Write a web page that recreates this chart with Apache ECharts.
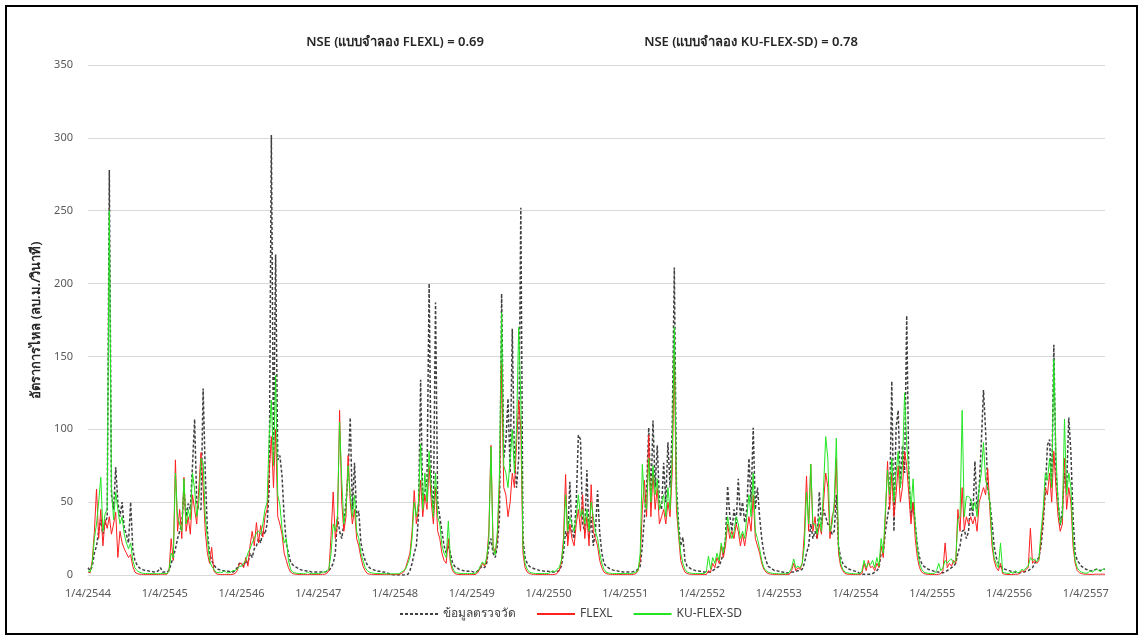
<!DOCTYPE html>
<html>
<head>
<meta charset="utf-8">
<script src="https://cdn.jsdelivr.net/npm/echarts@6/dist/echarts.min.js"></script>
<style>
  html, body { margin: 0; padding: 0; background: #fff; }
  #frame { position: absolute; left: 5px; top: 5px; width: 1129px; height: 626px; border: 2px solid #000; }
  #main { position: absolute; left: 0; top: 0; width: 1141px; height: 637px; }
</style>
</head>
<body>
<div id="frame"></div>
<div id="main"></div>
<script>
  // 10-day steps (1, 11, 21 of each month) from 1/4/2544, 36 per water year
  const firstYear = 2544
  const yearCount = 13
  const tailSteps = 10

  // ข้อมูลตรวจวัด
  const obs = [
    5, 3, 6, 15, 20, 30, 38, 28, 35, 40, 278, 55, 45, 74, 50, 40, 50, 32, 28, 22, 50, 18, 10, 7, 5, 4, 3.5, 3, 3, 2.5, 2.5, 2, 2, 3, 5, 2,
    2, 2, 3, 8, 12, 18, 25, 30, 35, 59, 40, 49, 45, 75, 107, 50, 45, 45, 128, 70, 30, 15, 10, 7, 5, 4, 3.5, 3, 3, 2.5, 2.5, 2, 2, 3, 5, 8,
    8, 6, 10, 8, 15, 12, 18, 20, 25, 22, 30, 28, 35, 60, 302, 80, 220, 79, 82, 68, 40, 22, 15, 9, 7, 6, 5, 4, 3.5, 3, 3, 2.5, 2.5, 2, 2, 2,
    2, 2, 2, 2, 2.5, 3, 5, 8, 15, 40, 30, 25, 35, 50, 70, 108, 45, 77, 40, 44, 22, 15, 10, 7, 5, 4, 3.5, 3, 2.5, 2.5, 2, 2, 1.5, 1, 0.5, 0.2,
    0, 0, 0, 0, 0, 0, 0.5, 3, 8, 15, 20, 40, 134, 50, 57, 65, 200, 60, 45, 187, 50, 40, 30, 20, 15, 20, 15, 8, 6, 5, 4, 3.5, 3, 3, 2.5, 2.5,
    2.5, 2, 2, 3, 5, 6, 5, 8, 20, 25, 15, 12, 20, 40, 193, 80, 92, 121, 70, 169, 80, 60, 80, 252, 25, 12, 8, 6, 5, 4.5, 4, 3.5, 3, 3, 2.5, 2.5,
    2.5, 2, 2, 2, 2.5, 3, 6, 15, 30, 25, 64, 30, 25, 50, 96, 93, 35, 30, 72, 25, 40, 20, 30, 58, 29, 15, 8, 6, 5, 4, 3.5, 3, 3, 2.5, 2.5, 2,
    2, 2, 2, 2, 2.5, 3, 4, 6, 20, 40, 60, 101, 50, 106, 60, 89, 50, 45, 77, 50, 91, 60, 101, 211, 61, 35, 20, 26, 10, 6, 5, 4, 3.5, 3, 3, 2.5,
    2.5, 2, 2, 2, 2, 3, 4, 5, 6, 10, 15, 25, 61, 41, 30, 45, 35, 66, 40, 50, 36, 45, 80, 50, 101, 45, 60, 40, 25, 15, 10, 6, 5, 4, 3, 3,
    2.5, 2, 2, 1.5, 1.5, 1.5, 2, 2, 2.5, 3, 3, 4, 8, 15, 20, 35, 25, 30, 25, 57, 35, 45, 40, 35, 33, 28, 30, 55, 20, 12, 8, 6, 5, 4, 3.5, 3,
    2.5, 2, 1, 0.5, 0.5, 0.5, 0.5, 0.5, 1, 2, 3, 5, 15, 15, 30, 40, 50, 133, 30, 101, 113, 60, 89, 70, 178, 68, 40, 50, 35, 20, 12, 8, 6, 5, 4, 3.5,
    3, 2.5, 2, 2, 1.5, 1.5, 2, 3, 4, 5, 6, 8, 15, 20, 30, 31, 25, 30, 52, 40, 78, 45, 60, 91, 127, 99, 60, 50, 36, 20, 12, 8, 6, 5, 4, 3.5,
    3, 2.5, 2, 2, 1.5, 1.5, 2, 2, 2.5, 3, 4, 5, 8, 10, 12, 20, 35, 57, 89, 93, 60, 158, 70, 50, 34, 45, 70, 60, 108, 84, 40, 15, 10, 8, 6, 5,
    4, 3.5, 3, 3, 3.5, 4, 3.5, 3, 4, 4
  ]

  // FLEXL
  const flexl = [
    2, 1.5, 10, 30, 59, 25, 45, 20, 38, 32, 40, 28, 35, 43, 12, 30, 22, 18, 15, 12, 14, 6, 2, 1, 0.6, 0.5, 0.4, 0.3, 0.3, 0.3, 0.3, 0.3, 0.3, 0.3, 0.5, 0.5,
    0.5, 0.5, 3, 25, 10, 79, 30, 45, 25, 67, 30, 40, 28, 55, 45, 35, 60, 84, 60, 30, 15, 8, 19, 3, 1, 0.5, 0.4, 0.3, 0.3, 0.3, 0.3, 0.3, 0.5, 1, 3, 8,
    8, 5, 12, 6, 20, 30, 20, 36, 22, 34, 26, 40, 45, 70, 95, 60, 100, 40, 35, 28, 15, 10, 5, 2, 1, 0.6, 0.5, 0.4, 0.3, 0.3, 0.3, 0.3, 0.3, 0.3, 0.3, 0.3,
    0.3, 0.3, 0.5, 0.5, 1, 3, 27, 57, 25, 35, 113, 50, 30, 40, 82, 50, 35, 45, 25, 20, 12, 6, 3, 1, 0.6, 0.5, 0.4, 0.3, 0.3, 0.3, 0.3, 0.3, 0.3, 0.3, 0.3, 0.3,
    0.3, 0.3, 0.5, 1, 2, 5, 10, 15, 30, 58, 35, 45, 65, 40, 55, 45, 75, 50, 35, 60, 30, 25, 15, 10, 8, 25, 8, 3, 1, 0.5, 0.4, 0.3, 0.3, 0.3, 0.3, 0.3,
    0.3, 0.3, 0.5, 2, 5, 8, 6, 10, 30, 89, 20, 15, 25, 60, 145, 60, 55, 40, 50, 70, 60, 90, 120, 100, 15, 5, 2, 1, 0.6, 0.5, 0.4, 0.3, 0.3, 0.3, 0.3, 0.3,
    0.3, 0.3, 0.3, 0.5, 1, 3, 8, 25, 69, 20, 35, 25, 20, 35, 45, 30, 55, 25, 40, 20, 62, 30, 25, 20, 10, 5, 2, 1, 0.6, 0.5, 0.4, 0.3, 0.3, 0.3, 0.3, 0.3,
    0.3, 0.3, 0.3, 0.3, 0.5, 1, 3, 10, 45, 65, 40, 96, 40, 70, 45, 60, 35, 40, 45, 35, 50, 40, 70, 150, 45, 27, 10, 5, 2, 1, 0.6, 0.5, 0.4, 0.3, 0.3, 0.3,
    0.3, 0.3, 0.3, 3, 2, 8, 5, 12, 8, 20, 12, 20, 35, 25, 30, 25, 35, 30, 20, 28, 20, 30, 40, 30, 55, 25, 20, 15, 8, 4, 2, 1, 0.6, 0.5, 0.4, 0.3,
    0.3, 0.3, 0.3, 0.3, 0.3, 0.5, 3, 8, 3, 5, 4, 8, 29, 68, 30, 76, 30, 40, 25, 35, 28, 50, 70, 60, 25, 40, 45, 80, 15, 6, 3, 1, 0.6, 0.5, 0.4, 0.3,
    0.3, 0.3, 0.3, 1, 8, 3, 10, 5, 6, 3, 8, 5, 20, 12, 40, 78, 45, 70, 40, 55, 75, 50, 60, 85, 75, 55, 35, 50, 25, 12, 5, 2, 1, 0.6, 0.5, 0.4,
    0.3, 0.3, 0.3, 0.5, 1, 3, 22, 5, 8, 6, 10, 8, 45, 30, 60, 31, 40, 35, 40, 35, 40, 30, 50, 55, 60, 55, 73, 45, 20, 10, 5, 3, 8, 1, 0.5, 0.4,
    0.3, 0.3, 0.3, 0.5, 0.5, 1, 3, 2, 4, 5, 32, 8, 10, 8, 10, 25, 40, 60, 55, 70, 50, 85, 60, 40, 30, 35, 80, 45, 60, 50, 20, 8, 3, 1.5, 1, 0.6,
    0.5, 0.5, 0.4, 0.4, 0.5, 0.6, 0.5, 0.5, 0.6, 0.6
  ]

  // KU-FLEX-SD
  const kuflex = [
    3, 2, 8, 25, 35, 50, 67, 30, 42, 45, 250, 60, 38, 57, 45, 35, 40, 28, 22, 18, 22, 10, 5, 3, 2, 1.5, 1.2, 1, 1, 1, 0.9, 0.9, 0.9, 0.8, 1, 1,
    1, 1, 3, 15, 12, 70, 40, 35, 30, 66, 35, 45, 38, 70, 59, 40, 50, 80, 77, 40, 25, 10, 6, 4, 2, 1.5, 2, 1.5, 3, 1.5, 1.5, 2, 3, 3, 4, 6,
    6, 8, 10, 15, 18, 22, 25, 29, 30, 28, 35, 45, 50, 96, 120, 75, 137, 55, 48, 32, 22, 25, 10, 4, 2, 1.5, 1.2, 1, 1, 0.9, 0.9, 2, 1, 0.9, 0.9, 0.9,
    1, 1, 2, 2, 3, 4, 15, 35, 30, 40, 105, 66, 35, 45, 75, 55, 40, 55, 30, 25, 15, 10, 5, 3, 2, 1.5, 1.2, 1, 1, 1, 0.9, 0.9, 0.9, 0.8, 0.8, 0.8,
    0.8, 0.8, 1, 2, 3, 4, 8, 12, 25, 50, 40, 50, 90, 45, 70, 50, 85, 60, 40, 70, 40, 35, 20, 15, 12, 37, 10, 5, 2, 1.5, 1.2, 1, 1, 1, 1, 1,
    1, 1, 1.5, 3, 6, 9, 7, 12, 25, 88, 18, 14, 30, 70, 180, 75, 70, 60, 80, 100, 70, 100, 170, 120, 20, 8, 4, 2, 1.5, 1.2, 1, 1, 1, 1, 1, 1,
    1, 2, 3, 2, 4, 5, 10, 20, 55, 30, 40, 35, 30, 40, 55, 40, 45, 35, 45, 30, 50, 40, 30, 25, 15, 8, 4, 2, 1.5, 1.2, 1, 1, 1, 1, 1, 1,
    1, 1, 1, 1, 1.5, 2, 3, 15, 76, 50, 45, 80, 50, 75, 55, 66, 45, 50, 55, 40, 60, 45, 80, 170, 55, 30, 15, 8, 4, 2, 1.5, 1.2, 1, 1, 1, 1,
    1, 1, 2, 13, 4, 12, 8, 15, 10, 22, 15, 25, 40, 30, 25, 30, 40, 35, 25, 30, 25, 40, 55, 40, 70, 30, 25, 18, 10, 5, 3, 2, 1.5, 1.2, 1, 1,
    0.8, 0.8, 0.8, 0.8, 1, 2, 5, 11, 5, 6, 5, 8, 20, 57, 35, 76, 35, 35, 28, 40, 30, 60, 95, 80, 30, 35, 50, 94, 20, 8, 4, 2, 1.5, 1.2, 1, 1,
    0.8, 0.8, 1, 3, 10, 5, 8, 7, 10, 5, 12, 6, 25, 15, 45, 72, 55, 80, 50, 70, 85, 60, 75, 125, 90, 70, 45, 66, 35, 18, 8, 4, 2, 1.5, 1.2, 1,
    1, 1, 3, 8, 3, 5, 10, 8, 10, 11, 8, 10, 38, 40, 113, 40, 54, 54, 52, 45, 50, 40, 60, 70, 91, 65, 60, 50, 25, 12, 8, 5, 22, 2, 1.5, 1.2,
    1, 2, 1, 3, 1.5, 2, 4, 3, 5, 6, 12, 10, 11, 9, 11, 30, 45, 70, 65, 80, 60, 148, 82, 50, 35, 40, 107, 55, 70, 60, 25, 10, 5, 3, 2, 1.5,
    1.2, 1.5, 3, 2, 3, 4, 3, 2.5, 4, 4
  ]

  const yTicks = [0, 50, 100, 150, 200, 250, 300, 350]

  let dates = []
  for (let y = 0; y <= yearCount; y++) {
    for (let m = 0; m < 12; m++) {
      for (let d of [1, 11, 21]) {
        if (dates.length >= yearCount * 36 + tailSteps) break
        let month = (m + 3) % 12 + 1
        let year = firstYear + y + (m >= 9 ? 1 : 0)
        dates.push(d + '/' + month + '/' + year)
      }
    }
  }

  let chart = echarts.init(document.getElementById('main'))
  let font = 'Tahoma, "Noto Sans", "DejaVu Sans", sans-serif'

  chart.setOption({
    animation: false,
    textStyle: {fontFamily: font},
    grid: {left: 88, right: 36, top: 65, bottom: 62},
    graphic: [
      {type: 'text', x: 395, y: 42, style: {text: 'NSE (แบบจำลอง FLEXL) = 0.69', font: '600 13px ' + font, fill: '#262626', align: 'center', verticalAlign: 'middle'}},
      {type: 'text', x: 751, y: 42, style: {text: 'NSE (แบบจำลอง KU-FLEX-SD) = 0.78', font: '600 13px ' + font, fill: '#262626', align: 'center', verticalAlign: 'middle'}}
    ],
    legend: {
      bottom: 12,
      left: 'center',
      itemWidth: 38,
      itemHeight: 10,
      itemGap: 20,
      itemStyle: {opacity: 0},
      textStyle: {color: '#404040', fontSize: 12, fontFamily: font},
      data: ['ข้อมูลตรวจวัด', 'FLEXL', 'KU-FLEX-SD']
    },
    xAxis: {
      type: 'category',
      data: dates,
      boundaryGap: false,
      axisLine: {lineStyle: {color: '#d9d9d9'}},
      axisTick: {show: false},
      axisLabel: {
        color: '#595959',
        fontSize: 11,
        margin: 13,
        interval: function (index) {
          return index % 36 === 0
        }
      },
      splitLine: {show: false}
    },
    yAxis: {
      type: 'value',
      min: yTicks[0],
      max: yTicks[yTicks.length - 1],
      interval: 50,
      name: 'อัตราการไหล (ลบ.ม./วินาที)',
      nameLocation: 'middle',
      nameGap: 44,
      nameTextStyle: {color: '#262626', fontSize: 13, fontWeight: 600, fontFamily: font},
      axisLine: {show: false},
      axisTick: {show: false},
      axisLabel: {color: '#595959', fontSize: 11, margin: 15},
      splitLine: {lineStyle: {color: '#d9d9d9', width: 1}}
    },
    series: [
      {
        name: 'ข้อมูลตรวจวัด',
        type: 'line',
        data: obs,
        symbol: 'none',
        itemStyle: {color: '#404040'},
        lineStyle: {color: '#404040', width: 1.5, type: [3, 2]}
      },
      {
        name: 'FLEXL',
        type: 'line',
        data: flexl,
        symbol: 'none',
        itemStyle: {color: '#ff2020'},
        lineStyle: {color: '#ff2020', width: 1}
      },
      {
        name: 'KU-FLEX-SD',
        type: 'line',
        data: kuflex,
        symbol: 'none',
        itemStyle: {color: '#22e622'},
        lineStyle: {color: '#22e622', width: 1}
      }
    ]
  })
</script>
</body>
</html>
